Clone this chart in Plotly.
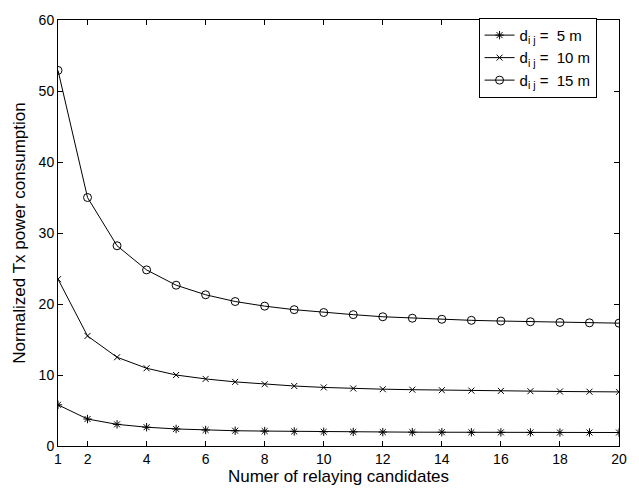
import plotly.graph_objects as go

x = list(range(1, 21))
d5 = [5.8, 3.8, 3.05, 2.65, 2.4, 2.25, 2.15, 2.1, 2.05, 2.0, 1.98, 1.96, 1.95, 1.94, 1.93, 1.92, 1.91, 1.9, 1.9, 1.9]
d10 = [23.5, 15.5, 12.5, 10.95, 10.0, 9.45, 9.03, 8.7, 8.45, 8.25, 8.1, 8.0, 7.93, 7.86, 7.8, 7.76, 7.72, 7.68, 7.65, 7.62]
d15 = [52.9, 35.0, 28.2, 24.8, 22.65, 21.3, 20.35, 19.7, 19.2, 18.8, 18.5, 18.2, 18.0, 17.85, 17.7, 17.6, 17.5, 17.4, 17.35, 17.3]
names = ["d<sub>i j</sub> =  5 m", "d<sub>i j</sub> =  10 m", "d<sub>i j</sub> =  15 m"]
xticks = [1, 2, 4, 6, 8, 10, 12, 14, 16, 18, 20]
yticks = [0, 10, 20, 30, 40, 50, 60]

fig = go.Figure()
specs = [(d5, "asterisk-open", 7), (d10, "x-thin-open", 6), (d15, "circle-open", 8)]
for (ys, sym, sz), nm in zip(specs, names):
    fig.add_trace(go.Scatter(
        x=x, y=ys, name=nm, mode="lines+markers",
        line=dict(color="black", width=1),
        marker=dict(symbol=sym, size=sz, color="black", line=dict(color="black", width=1)),
    ))

fig.update_layout(
    width=639, height=492,
    margin=dict(l=58, r=14, t=12, b=44),
    plot_bgcolor="white", paper_bgcolor="white",
    font=dict(family="Liberation Sans, Arial, sans-serif", size=14, color="black"),
    showlegend=True,
    legend=dict(x=0.96, y=1.005, xanchor="right", yanchor="top",
                bordercolor="black", borderwidth=1, bgcolor="white",
                font=dict(size=15), tracegroupgap=0),
)
fig.update_xaxes(
    range=[1, 20], tickvals=xticks, ticks="inside", ticklen=5, tickcolor="black",
    showline=True, linecolor="black", linewidth=1, mirror="ticks", showgrid=False,
    zeroline=False, title=dict(text="Numer of relaying candidates", standoff=1),
)
fig.update_yaxes(
    range=[0, 60], tickvals=yticks, ticks="inside", ticklen=5, tickcolor="black",
    showline=True, linecolor="black", linewidth=1, mirror="ticks", showgrid=False,
    zeroline=False, title=dict(text="Normalized Tx power consumption", standoff=8),
)

fig.write_html("out.html")
